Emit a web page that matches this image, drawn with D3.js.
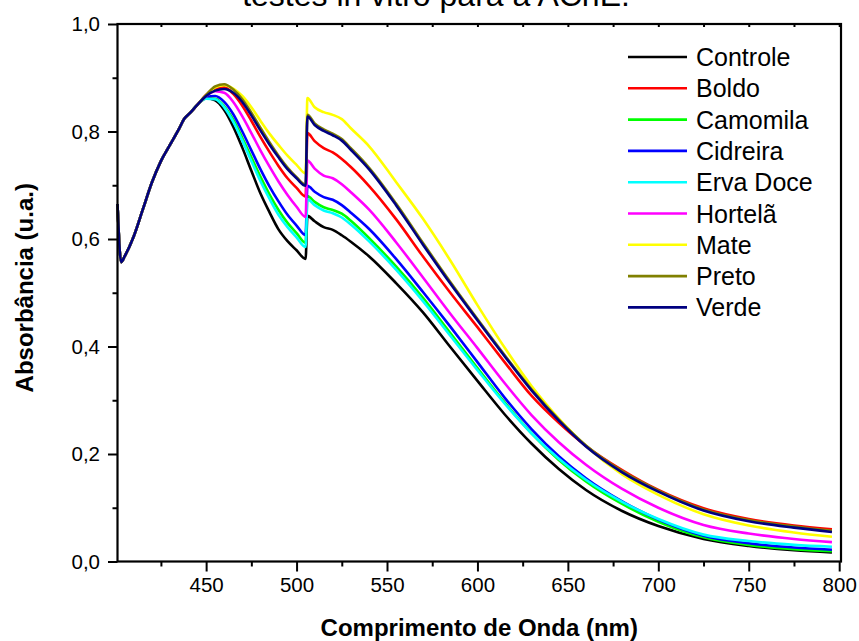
<!DOCTYPE html>
<html>
<head>
<meta charset="utf-8">
<script src="https://cdn.jsdelivr.net/npm/d3@7"></script>
<style>
  body { margin: 0; background: #fff; }
  text { font-family: Arial, "Liberation Sans", sans-serif; fill: #000; }
</style>
</head>
<body>
<div id="chart"></div>
<script>
// wavelengths (nm) shared by all spectra
var wavelengths = [401,403,405,410,415,420,425,430,435,438,441,445,
  450,455,460,465,470,475,480,485,490,495,500,505,506,510,515,520,525,530,
  540,555,570,585,600,615,630,645,660,680,700,725,750,775,796];

// absorbance
var controle = [0.665,0.557,0.568,0.605,0.655,0.705,0.745,0.775,0.805,0.824,0.834,0.849,
  0.862,0.858,0.840,0.809,0.770,0.727,0.685,0.650,0.618,0.596,0.579,0.563,0.643,
  0.633,0.622,0.617,0.607,0.595,
  0.568,0.518,0.463,0.399,0.336,0.274,0.219,0.172,0.133,0.094,0.066,0.042,0.029,0.021,0.017];
var boldo = [0.665,0.557,0.568,0.605,0.655,0.705,0.745,0.775,0.805,0.824,0.834,0.849,
  0.868,0.880,0.882,0.870,0.848,0.820,0.790,0.762,0.736,0.713,0.695,0.679,0.797,
  0.782,0.769,0.761,0.749,0.734,
  0.699,0.637,0.567,0.500,0.436,0.371,0.308,0.258,0.215,0.170,0.133,0.099,0.079,0.067,0.060];
var camomila = [0.665,0.557,0.568,0.605,0.655,0.705,0.745,0.775,0.805,0.824,0.834,0.849,
  0.862,0.861,0.847,0.822,0.788,0.752,0.716,0.683,0.654,0.630,0.611,0.593,0.680,
  0.669,0.659,0.654,0.647,0.634,
  0.602,0.549,0.490,0.425,0.360,0.296,0.238,0.189,0.149,0.107,0.074,0.045,0.031,0.023,0.019];
var cidreira = [0.665,0.557,0.568,0.605,0.655,0.705,0.745,0.775,0.805,0.824,0.834,0.849,
  0.864,0.866,0.855,0.832,0.800,0.765,0.730,0.698,0.670,0.645,0.625,0.607,0.699,
  0.688,0.678,0.673,0.663,0.649,
  0.619,0.563,0.501,0.437,0.371,0.305,0.246,0.196,0.155,0.112,0.078,0.048,0.034,0.026,0.022];
var ervaDoce = [0.665,0.557,0.568,0.605,0.655,0.705,0.745,0.775,0.805,0.824,0.834,0.849,
  0.861,0.860,0.845,0.818,0.783,0.745,0.708,0.675,0.645,0.622,0.603,0.585,0.674,
  0.663,0.653,0.648,0.640,0.627,
  0.596,0.543,0.484,0.420,0.356,0.294,0.238,0.191,0.152,0.111,0.079,0.050,0.038,0.031,0.0275];
var hortela = [0.665,0.557,0.568,0.605,0.655,0.705,0.745,0.775,0.805,0.824,0.834,0.849,
  0.866,0.875,0.872,0.855,0.828,0.797,0.765,0.735,0.707,0.682,0.660,0.641,0.746,
  0.731,0.718,0.713,0.702,0.687,
  0.655,0.594,0.528,0.461,0.397,0.332,0.272,0.222,0.180,0.135,0.100,0.068,0.052,0.042,0.036];
var mate = [0.665,0.557,0.568,0.605,0.655,0.705,0.745,0.775,0.805,0.824,0.834,0.849,
  0.867,0.882,0.886,0.880,0.866,0.845,0.820,0.796,0.775,0.755,0.738,0.722,0.862,
  0.845,0.836,0.831,0.823,0.806,
  0.773,0.706,0.637,0.560,0.477,0.398,0.326,0.266,0.215,0.162,0.124,0.088,0.067,0.054,0.046];
var preto = [0.665,0.557,0.568,0.605,0.655,0.705,0.745,0.775,0.805,0.824,0.834,0.849,
  0.868,0.884,0.888,0.878,0.860,0.835,0.807,0.780,0.755,0.733,0.715,0.701,0.831,
  0.815,0.804,0.796,0.786,0.769,
  0.733,0.666,0.592,0.520,0.451,0.384,0.320,0.264,0.216,0.168,0.132,0.097,0.077,0.065,0.057];
var verde = [0.665,0.557,0.568,0.605,0.655,0.705,0.745,0.775,0.805,0.824,0.834,0.849,
  0.866,0.876,0.879,0.872,0.855,0.830,0.802,0.776,0.752,0.730,0.713,0.699,0.828,
  0.812,0.801,0.793,0.783,0.766,
  0.730,0.663,0.589,0.517,0.449,0.382,0.318,0.262,0.214,0.166,0.130,0.095,0.075,0.063,0.055];

var seriesNames = ["Controle","Boldo","Camomila","Cidreira","Erva Doce","Hortelã","Mate","Preto","Verde"];
var seriesValues = [controle, boldo, camomila, cidreira, ervaDoce, hortela, mate, preto, verde];
var seriesColors = ["#000000","#ff0000","#00ff00","#0000ff","#00ffff","#ff00ff","#ffff00","#808000","#000080"];

var xMajor = [450,500,550,600,650,700,750,800];
var xMinor = [425,475,525,575,625,675,725,775];
var yMajor = [0,0.2,0.4,0.6,0.8,1.0];
var yMinor = [0.1,0.3,0.5,0.7,0.9];

var W = 859, H = 641;
var margin = {top: 24, right: 18, bottom: 79.5, left: 117.5},
    width = W - margin.left - margin.right,
    height = H - margin.top - margin.bottom;

var svg = d3.select("#chart").append("svg")
    .attr("width", W)
    .attr("height", H);

// title, cut by the top edge like in the original export
svg.append("text")
    .attr("x", 436)
    .attr("y", 6)
    .attr("text-anchor", "middle")
    .style("font-size", "32px")
    .text("testes in vitro para a AChE.");

var g = svg.append("g")
    .attr("transform", "translate(" + margin.left + "," + margin.top + ")");

var x = d3.scaleLinear().domain([401, 801]).range([0, width]);
var y = d3.scaleLinear().domain([0, 1]).range([height, 0]);

var comma = function(d) { return d3.format(".1f")(d).replace(".", ","); };

// spectra
var line = d3.line()
    .x(function(d) { return x(d[0]); })
    .y(function(d) { return y(d[1]); })
    .curve(d3.curveMonotoneX);

seriesValues.forEach(function(vals, i) {
  g.append("path")
    .datum(wavelengths.map(function(w, j) { return [w, vals[j]]; }))
    .attr("fill", "none")
    .attr("stroke", seriesColors[i])
    .attr("stroke-width", 2.6)
    .attr("stroke-linejoin", "round")
    .attr("d", line);
});

// axes
g.append("g")
    .attr("transform", "translate(0," + height + ")")
    .call(d3.axisBottom(x).tickValues(xMajor).tickSize(10).tickSizeOuter(0).tickPadding(6).tickFormat(d3.format("d")));
g.append("g")
    .attr("transform", "translate(0," + height + ")")
    .call(d3.axisBottom(x).tickValues(xMinor).tickSize(5).tickSizeOuter(0).tickFormat(""));
g.append("g")
    .call(d3.axisBottom(x).tickValues(xMajor.concat(xMinor)).tickSize(3).tickSizeOuter(0).tickFormat(""));

g.append("g")
    .call(d3.axisLeft(y).tickValues(yMajor).tickSize(9.5).tickSizeOuter(0).tickPadding(8).tickFormat(comma));
g.append("g")
    .call(d3.axisLeft(y).tickValues(yMinor).tickSize(5).tickSizeOuter(0).tickFormat(""));

g.selectAll(".tick line").attr("stroke", "#000").attr("stroke-width", 2);
g.selectAll(".domain").remove();
g.selectAll(".tick text").style("font-size", "20.5px").attr("fill", "#000");

g.append("rect")
    .attr("width", width)
    .attr("height", height)
    .attr("fill", "none")
    .attr("stroke", "#000")
    .attr("stroke-width", 2.2);

// axis titles
svg.append("text")
    .attr("x", margin.left + width / 2)
    .attr("y", 636)
    .attr("text-anchor", "middle")
    .style("font-size", "24px")
    .style("font-weight", "bold")
    .text("Comprimento de Onda (nm)");

svg.append("text")
    .attr("transform", "translate(33," + (margin.top + height / 2 - 5) + ") rotate(-90)")
    .attr("text-anchor", "middle")
    .style("font-size", "24px")
    .style("font-weight", "bold")
    .text("Absorbância (u.a.)");

// legend
var legend = svg.append("g").attr("transform", "translate(628,57)");
seriesNames.forEach(function(name, i) {
  var row = legend.append("g").attr("transform", "translate(0," + (i * 31.3) + ")");
  row.append("line")
    .attr("x1", 0).attr("x2", 59)
    .attr("stroke", seriesColors[i])
    .attr("stroke-width", 2.6);
  row.append("text")
    .attr("x", 68)
    .attr("y", 9)
    .style("font-size", "25px")
    .text(name);
});
</script>
</body>
</html>
